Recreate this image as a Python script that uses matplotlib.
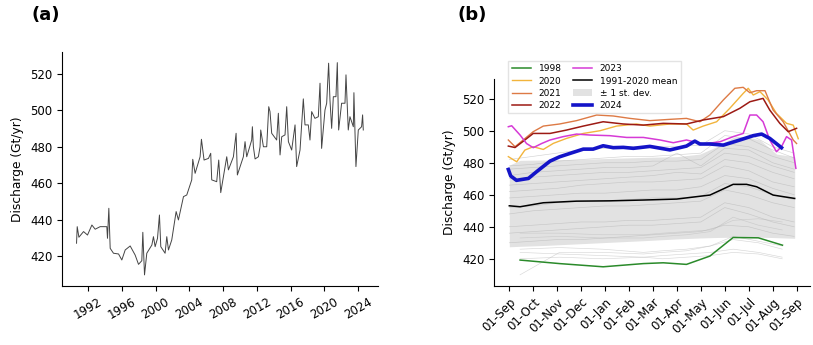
import matplotlib
matplotlib.use("Agg")
import matplotlib.pyplot as plt
from matplotlib.patches import Patch
from matplotlib.lines import Line2D

# ---------------- Panel (a): full discharge time series ----------------
years_a = [1990.62, 1990.70, 1990.90, 1991.45, 1991.92, 1992.44, 1992.83, 1993.42,
           1994.21, 1994.29, 1994.45, 1994.61, 1995.00, 1995.60, 1995.99, 1996.39,
           1996.98, 1997.57, 1997.97, 1998.36, 1998.48, 1998.68, 1998.95, 1999.55,
           1999.74, 1999.94, 2000.22, 2000.45, 2000.61, 2001.12, 2001.32, 2001.52,
           2001.91, 2002.43, 2002.70, 2003.30, 2003.69, 2004.28, 2004.40, 2004.68,
           2005.27, 2005.43, 2005.74, 2006.26, 2006.53, 2006.65, 2007.24, 2007.48,
           2007.72, 2008.43, 2008.63, 2009.22, 2009.54, 2009.69, 2010.40, 2010.60,
           2010.80, 2011.39, 2011.47, 2011.59, 2011.79, 2012.18, 2012.38, 2012.46,
           2012.78, 2013.17, 2013.41, 2013.56, 2013.76, 2014.35, 2014.55, 2014.75,
           2014.95, 2015.34, 2015.54, 2015.74, 2016.13, 2016.53, 2016.72, 2017.12,
           2017.51, 2017.71, 2018.10, 2018.30, 2018.50, 2018.89, 2019.29, 2019.49,
           2019.68, 2020.08, 2020.28, 2020.51, 2020.67, 2020.87, 2021.07, 2021.38,
           2021.54, 2021.70, 2022.05, 2022.45, 2022.57, 2022.84, 2023.04, 2023.44,
           2023.51, 2023.63, 2023.75, 2024.03, 2024.42, 2024.54, 2024.62]
discharge_a = [427.0, 436.1, 430.3, 433.4, 431.5, 437.0, 434.7, 436.1,
               436.1, 429.7, 446.2, 424.2, 421.5, 421.1, 417.8, 423.3,
               425.5, 420.5, 415.4, 417.4, 433.0, 409.6, 421.5, 426.0,
               430.6, 425.1, 429.7, 442.5, 425.1, 421.5, 430.6, 423.3,
               428.8, 444.4, 439.8, 452.6, 453.5, 461.8, 473.1, 465.4,
               474.5, 484.1, 472.7, 473.6, 476.4, 461.8, 460.8, 472.7,
               454.8, 474.5, 467.3, 474.5, 487.4, 464.5, 474.5, 482.8,
               474.5, 483.7, 491.0, 480.0, 473.3, 474.5, 480.0, 489.2,
               480.0, 480.0, 502.0, 499.3, 487.4, 483.7, 498.4, 475.5,
               485.5, 486.5, 502.0, 482.8, 478.2, 492.0, 469.1, 478.2,
               506.3, 492.0, 492.0, 483.7, 499.3, 495.6, 496.5, 514.9,
               479.1, 500.2, 503.9, 525.9, 505.7, 490.1, 507.5, 507.5,
               526.2, 489.2, 503.9, 503.9, 519.5, 489.2, 496.5, 491.0,
               509.7, 489.2, 469.1, 489.2, 491.0, 497.5, 489.2]
year_ticks = [1992, 1996, 2000, 2004, 2008, 2012, 2016, 2020, 2024]

# ---------------- Panel (b): seasonal cycle (months since 1 Sep) ----------------
month_labels = ['01-Sep', '01-Oct', '01-Nov', '01-Dec', '01-Jan', '01-Feb', '01-Mar',
                '01-Apr', '01-May', '01-Jun', '01-Jul', '01-Aug', '01-Sep']

band_x = [0.0, 0.45, 1.42, 2.81, 4.2, 5.6, 7.0, 7.96, 8.66, 9.35, 9.91, 10.47, 11.16, 11.92]
band_upper = [478.5, 481.5, 481.7, 482.0, 482.7, 483.3, 483.8, 485.4, 490.0, 495.8, 496.3, 494.2, 485.4, 483.8]
band_lower = [427.5, 427.8, 428.3, 429.3, 430.3, 431.3, 432.4, 433.0, 433.3, 433.5, 433.6, 433.5, 433.2, 432.8]

mean_x = [0.0, 0.45, 1.42, 2.81, 4.2, 5.6, 6.99, 7.82, 8.38, 9.35, 9.91, 10.33, 11.02, 11.92]
mean_y = [453.1, 452.5, 455.0, 456.0, 456.2, 456.7, 457.3, 458.8, 459.8, 466.5, 466.5, 465.0, 459.8, 457.7]

old_x = [0.45, 2.1, 3.9, 5.6, 6.4, 7.4, 8.4, 9.35, 10.4, 11.4]
old_years = [
    [410, 424, 424, 423, 424, 425, 428, 432, 430, 426],
    [424, 423, 422, 421, 422, 423, 424, 426, 424, 421],
    [426, 427, 426, 424, 425, 426, 428, 434, 431, 428],
    [420, 421, 420, 421, 420, 421, 422, 424, 423, 420],
    [433, 434, 433, 433, 434, 435, 437, 446, 441, 438],
    [436, 436, 435, 435, 436, 437, 438, 444, 445, 443],
]
new_x = [0, 1, 2, 3, 4, 5, 6, 7, 8, 9, 10, 11, 11.9]
new_years = [
    [440, 441, 442, 443, 443, 444, 444, 445, 446, 455, 452, 446, 443],
    [448, 450, 451, 452, 453, 453, 454, 455, 456, 463, 460, 455, 452],
    [458, 459, 460, 461, 461, 462, 463, 463, 465, 472, 470, 464, 460],
    [462, 463, 464, 466, 467, 468, 468, 469, 470, 478, 475, 468, 465],
    [466, 467, 468, 469, 470, 471, 472, 474, 473, 482, 480, 474, 470],
    [470, 471, 472, 473, 474, 474, 475, 476, 477, 486, 484, 478, 474],
    [472, 474, 475, 476, 477, 477, 478, 486, 478, 489, 488, 480, 476],
    [476, 477, 478, 479, 480, 480, 481, 481, 482, 492, 490, 484, 480],
    [478, 479, 481, 482, 483, 484, 484, 485, 486, 497, 495, 488, 483],
    [482, 484, 486, 488, 489, 490, 490, 490, 491, 500, 498, 490, 486],
    [452, 453, 455, 456, 456, 457, 458, 458, 459, 467, 465, 460, 457],
    [436, 437, 438, 439, 440, 441, 441, 442, 443, 452, 448, 443, 440],
    [430, 431, 432, 432, 433, 434, 435, 436, 437, 441, 440, 436, 434],
]

x_1998 = [0.45, 2.1, 3.92, 5.6, 6.43, 7.4, 8.38, 9.35, 10.4, 11.41]
y_1998 = [419.2, 417.0, 415.0, 417.0, 417.5, 416.5, 421.7, 433.3, 433.1, 428.5]

x_2020 = [-0.04, 0.31, 0.65, 1.0, 1.42, 1.84, 2.39, 3.09, 3.79, 4.48, 5.32, 5.87, 6.71, 7.4,
          7.68, 8.1, 8.66, 9.21, 9.77, 9.98, 10.19, 10.47, 10.81, 11.16, 11.58, 11.86, 12.07]
y_2020 = [483.8, 480.6, 487.9, 490.0, 488.3, 492.1, 495.2, 498.3, 500.0, 502.9, 504.2, 502.9, 504.2, 504.2,
          500.4, 502.9, 505.6, 514.0, 523.3, 526.5, 522.3, 524.4, 519.2, 510.8, 504.6, 503.5, 495.0]

x_2021 = [-0.04, 0.24, 0.58, 1.0, 1.42, 2.1, 2.81, 3.65, 4.34, 5.04, 5.87, 6.71, 7.4, 7.96,
          8.38, 8.94, 9.42, 9.77, 10.05, 10.33, 10.68, 11.02, 11.44, 11.86, 12.0]
y_2021 = [494.2, 490.0, 494.2, 499.4, 502.9, 504.2, 506.3, 509.8, 509.2, 507.7, 506.3, 507.1, 507.7, 505.6,
          509.8, 519.2, 526.5, 527.1, 523.7, 525.0, 525.0, 512.9, 505.6, 494.2, 492.0]

x_2022 = [-0.04, 0.24, 0.65, 1.0, 1.7, 2.39, 3.09, 3.92, 4.76, 5.6, 6.43, 7.4, 8.1, 8.94,
          9.63, 10.05, 10.6, 10.88, 11.3, 11.65, 12.0]
y_2022 = [490.4, 489.5, 494.2, 498.3, 498.3, 500.4, 502.9, 505.6, 504.2, 503.5, 504.6, 504.2, 506.7, 508.8,
          514.0, 518.1, 520.2, 512.9, 504.6, 499.4, 501.5]

x_2023 = [-0.04, 0.1, 0.45, 0.72, 1.0, 1.35, 1.7, 2.25, 2.81, 3.37, 4.2, 4.9, 5.6, 6.3, 6.85,
          7.4, 8.1, 8.8, 9.35, 9.77, 10.05, 10.33, 10.6, 10.88, 11.16, 11.37, 11.58, 11.79, 11.97]
y_2023 = [502.5, 503.1, 497.3, 492.0, 489.4, 492.0, 494.2, 496.3, 497.9, 497.3, 496.9, 495.8, 495.8, 494.2, 492.5,
          494.2, 491.7, 493.1, 496.3, 498.3, 509.8, 509.8, 505.6, 494.2, 486.9, 490.0, 496.3, 494.2, 476.5]

x_2024 = [-0.04, 0.06, 0.3, 0.8, 1.14, 1.7, 2.1, 2.53, 3.09, 3.5, 3.92, 4.34, 4.76, 5.18, 5.87,
          6.71, 7.4, 7.75, 7.96, 8.38, 8.94, 9.63, 10.19, 10.54, 10.88, 11.37]
y_2024 = [475.8, 471.7, 469.0, 470.2, 474.4, 481.0, 483.7, 485.8, 488.5, 488.5, 490.6, 489.4, 489.6, 489.0, 490.2,
          488.0, 490.4, 493.5, 491.7, 491.7, 491.0, 494.2, 496.9, 497.9, 495.2, 489.4]

# ---------------- Figure ----------------
plt.rcParams['font.family'] = ['DejaVu Sans']
fig = plt.figure(figsize=(8.13, 3.45), dpi=100)
ax1 = fig.add_axes([0.0763, 0.171, 0.389, 0.678])
ax2 = fig.add_axes([0.6076, 0.171, 0.3887, 0.600])

TICK_FS = 8.5

# Panel (a)
ax1.plot(years_a, discharge_a, color='#444444', lw=0.7)
ax1.set_xlim(1988.9, 2026.4)
ax1.set_ylim(403.5, 532)
ax1.set_xticks(year_ticks)
ax1.set_xticklabels([str(y) for y in year_ticks], rotation=30, ha='center', fontsize=TICK_FS)
ax1.set_yticks([420, 440, 460, 480, 500, 520])
ax1.tick_params(axis='y', labelsize=TICK_FS)
ax1.set_ylabel('Discharge (Gt/yr)', fontsize=8.8)
for s in ['top', 'right']:
    ax1.spines[s].set_visible(False)

# Panel (b)
ax2.fill_between(band_x, band_lower, band_upper, color='#e2e2e2', lw=0, zorder=1)
for row in old_years:
    ax2.plot(old_x, row, color='#bdbdbd', lw=0.45, alpha=0.6, zorder=2)
for row in new_years:
    ax2.plot(new_x, row, color='#b5b5b5', lw=0.45, alpha=0.6, zorder=2)
ax2.plot(mean_x, mean_y, color='black', lw=1.1, zorder=4)
ax2.plot(x_1998, y_1998, color='#2a8a2a', lw=1.1, zorder=5)
ax2.plot(x_2020, y_2020, color='#f2b43c', lw=1.0, zorder=5)
ax2.plot(x_2021, y_2021, color='#dd7a45', lw=1.0, zorder=5)
ax2.plot(x_2022, y_2022, color='#9c1a14', lw=1.1, zorder=5)
ax2.plot(x_2023, y_2023, color='#d63ad6', lw=1.1, zorder=5)
ax2.plot(x_2024, y_2024, color='#1414c8', lw=2.6, zorder=6)

ax2.set_xlim(-0.64, 12.56)
ax2.set_ylim(403, 532.3)
ax2.set_xticks(list(range(13)))
ax2.set_xticklabels(month_labels, rotation=45, ha='right', rotation_mode='anchor', fontsize=TICK_FS)
ax2.set_yticks([420, 440, 460, 480, 500, 520])
ax2.tick_params(axis='y', labelsize=TICK_FS)
ax2.set_ylabel('Discharge (Gt/yr)', fontsize=8.8)
for s in ['top', 'right']:
    ax2.spines[s].set_visible(False)

handles = [
    Line2D([], [], color='#2a8a2a', lw=1.1, label='1998'),
    Line2D([], [], color='#f2b43c', lw=1.0, label='2020'),
    Line2D([], [], color='#dd7a45', lw=1.0, label='2021'),
    Line2D([], [], color='#9c1a14', lw=1.1, label='2022'),
    Line2D([], [], color='#d63ad6', lw=1.1, label='2023'),
    Line2D([], [], color='black', lw=1.1, label='1991-2020 mean'),
    Patch(facecolor='#e2e2e2', edgecolor='none', label='± 1 st. dev.'),
    Line2D([], [], color='#1414c8', lw=2.6, label='2024'),
]
leg = ax2.legend(handles=handles, ncol=2, loc='upper left', bbox_to_anchor=(0.03, 1.11),
                 fontsize=6.5, frameon=True, fancybox=False, edgecolor='#dddddd',
                 handlelength=2.2, labelspacing=0.35, columnspacing=1.2, borderpad=0.4)
leg.set_zorder(10)

fig.text(0.039, 0.957, '(a)', fontsize=13, fontweight='bold', va='center', ha='left')
fig.text(0.563, 0.957, '(b)', fontsize=13, fontweight='bold', va='center', ha='left')

fig.savefig('out.png', dpi=100)
